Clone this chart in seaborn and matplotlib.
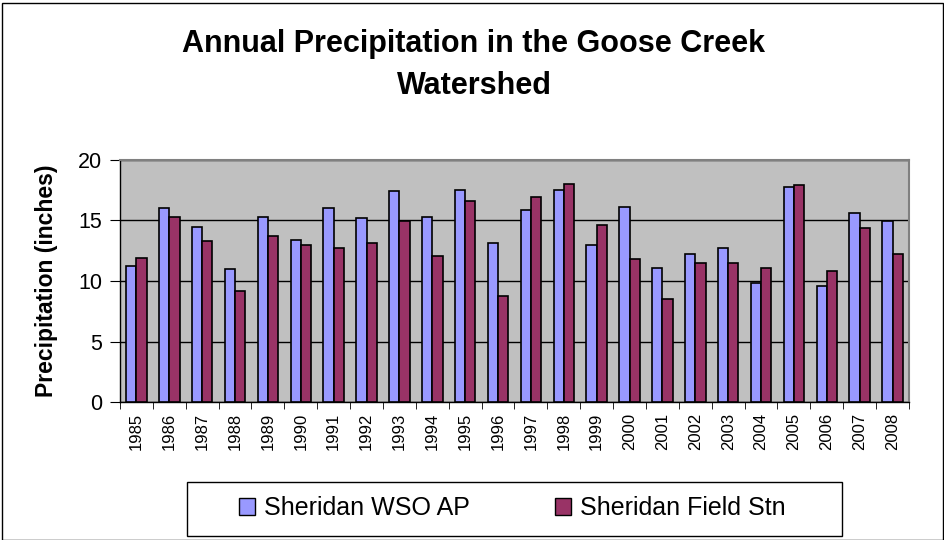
import pandas as pd
import matplotlib
matplotlib.use("Agg")
import matplotlib.pyplot as plt
import seaborn as sns
from matplotlib.patches import Rectangle

# data (inches)
years = [str(y) for y in range(1985, 2009)]
wso_ap = [11.2, 16.0, 14.5, 11.0, 15.3, 13.4, 16.0, 15.2, 17.4, 15.3, 17.5, 13.1,
          15.9, 17.5, 13.0, 16.1, 11.1, 12.2, 12.75, 9.85, 17.8, 9.6, 15.6, 14.95]
field_stn = [11.9, 15.3, 13.3, 9.2, 13.7, 13.0, 12.7, 13.1, 14.95, 12.05, 16.6, 8.75,
             16.95, 18.05, 14.65, 11.8, 8.5, 11.5, 11.5, 11.1, 17.95, 10.8, 14.4, 12.2]
series = ["Sheridan WSO AP", "Sheridan Field Stn"]
colors = ["#9999FF", "#993366"]

df = pd.DataFrame({
    "year": years * 2,
    "precip": wso_ap + field_stn,
    "station": [series[0]] * len(years) + [series[1]] * len(years),
})

sns.set_style("white")
plt.rcParams["font.family"] = ["Liberation Sans", "DejaVu Sans"]
plt.rcParams.update({"text.color": "black", "axes.labelcolor": "black",
                     "xtick.color": "black", "ytick.color": "black"})

fig = plt.figure(figsize=(9.45, 5.4), dpi=100)
ax = fig.add_axes([120 / 945, 1 - 402 / 540, (909 - 120) / 945, (402 - 160) / 540])

sns.barplot(data=df, x="year", y="precip", hue="station", palette=colors,
            saturation=1, width=0.62, edgecolor="black", linewidth=1.2,
            legend=False, ax=ax, zorder=3)

ax.set_facecolor("#C0C0C0")
ax.set_ylim(0, 20)
ax.set_yticks([0, 5, 10, 15, 20])
ax.yaxis.grid(True, color="black", linewidth=1, zorder=0)
ax.set_axisbelow(True)
ax.set_xlim(-0.5, len(years) - 0.5)
for s in ["top", "right"]:
    ax.spines[s].set_color("#808080")
    ax.spines[s].set_linewidth(1.5)
for s in ["left", "bottom"]:
    ax.spines[s].set_color("black")
    ax.spines[s].set_linewidth(1)

ax.tick_params(axis="y", labelsize=15.5, length=7, direction="out", left=True, pad=6)
ax.tick_params(axis="x", labelsize=12, rotation=90, length=0, bottom=False, pad=8)
# minor ticks between year groups
ax.set_xticks([i + 0.5 for i in range(-1, len(years))], minor=True)
ax.tick_params(axis="x", which="minor", length=5, bottom=True)

ax.set_xlabel("")
ax.set_ylabel("Precipitation (inches)", fontsize=16.5, fontweight="bold", labelpad=14)

fig.text(474 / 945, 1 - 65 / 540, "Annual Precipitation in the Goose Creek\nWatershed",
         ha="center", va="center", fontsize=22, fontweight="bold", linespacing=1.5)

# legend (frame drawn separately to match the reference box)
handles = [Rectangle((0, 0), 1, 1, facecolor=c, edgecolor="black", linewidth=1) for c in colors]
leg = fig.legend(handles, series, loc="center",
                 bbox_to_anchor=(512 / 945, 1 - 508 / 540), ncol=2, fontsize=18,
                 frameon=False, columnspacing=3.4,
                 handlelength=0.65, handleheight=0.65, handletextpad=0.35)
fig.patches.append(Rectangle((187 / 945, 1 - 536 / 540), 655 / 945, 54 / 540,
                             transform=fig.transFigure, fill=False,
                             edgecolor="black", linewidth=1))

# outer chart border
fig.patches.append(Rectangle((2 / 945, 0), 941 / 945, 1 - 3 / 540, transform=fig.transFigure,
                             fill=False, edgecolor="black", linewidth=1))

fig.savefig("out.png", dpi=100)
